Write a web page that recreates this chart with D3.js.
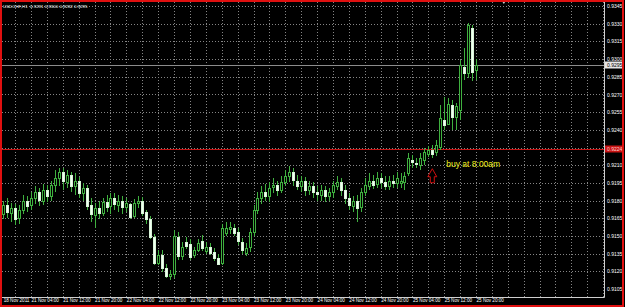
<!DOCTYPE html>
<html>
<head>
<meta charset="utf-8">
<script src="https://cdn.jsdelivr.net/npm/d3@7"></script>
<style>
  html, body { margin: 0; padding: 0; background: #000; overflow: hidden; }
  text { font-family: "Liberation Sans", Arial, sans-serif; }
</style>
</head>
<body>
<svg id="chart"></svg>
<script>
const width = 625, height = 307;
const plotRight = 604, plotBottom = 297;

// USDCHF H1 bars, 18 Nov 2011 21:00 .. 25 Nov 2011 20:00
const open = [
  0.9168, 0.9176, 0.9170, 0.9174, 0.9165, 0.9172, 0.9180, 0.9176, 0.9182, 0.9187,
  0.9180, 0.9189, 0.9184, 0.9193, 0.9199, 0.9204, 0.9196, 0.9202, 0.9193, 0.9197,
  0.9187, 0.9191, 0.9176, 0.9168, 0.9174, 0.9170, 0.9179, 0.9175, 0.9182, 0.9177,
  0.9180, 0.9175, 0.9177, 0.9167, 0.9178, 0.9180, 0.9170, 0.9164, 0.9149, 0.9127,
  0.9134, 0.9123, 0.9116, 0.9118, 0.9149, 0.9133, 0.9145, 0.9143, 0.9134, 0.9138,
  0.9146, 0.9138, 0.9141, 0.9136, 0.9131, 0.9127, 0.9153, 0.9156, 0.9157, 0.9153,
  0.9145, 0.9136, 0.9140, 0.9153, 0.9172, 0.9182, 0.9187, 0.9184, 0.9191, 0.9193,
  0.9189, 0.9196, 0.9201, 0.9204, 0.9197, 0.9193, 0.9197, 0.9189, 0.9192, 0.9187,
  0.9185, 0.9189, 0.9184, 0.9187, 0.9193, 0.9196, 0.9189, 0.9182, 0.9176, 0.9180,
  0.9174, 0.9187, 0.9193, 0.9197, 0.9194, 0.9199, 0.9196, 0.9193, 0.9197, 0.9195,
  0.9195, 0.9196, 0.9203, 0.9214, 0.9212, 0.9210, 0.9214, 0.9220, 0.9223, 0.9221,
  0.9225, 0.9248, 0.9245, 0.9261, 0.9251, 0.9257, 0.9293, 0.9288, 0.9326, 0.9291
];
const high = [
  0.9180, 0.9182, 0.9178, 0.9177, 0.9176, 0.9185, 0.9184, 0.9187, 0.9192, 0.9191,
  0.9194, 0.9193, 0.9197, 0.9206, 0.9208, 0.9208, 0.9206, 0.9204, 0.9203, 0.9200,
  0.9195, 0.9193, 0.9182, 0.9178, 0.9180, 0.9182, 0.9185, 0.9186, 0.9186, 0.9185,
  0.9184, 0.9182, 0.9178, 0.9181, 0.9184, 0.9183, 0.9172, 0.9167, 0.9152, 0.9138,
  0.9138, 0.9126, 0.9121, 0.9155, 0.9153, 0.9145, 0.9149, 0.9147, 0.9141, 0.9147,
  0.9151, 0.9145, 0.9144, 0.9140, 0.9135, 0.9160, 0.9162, 0.9162, 0.9160, 0.9157,
  0.9148, 0.9144, 0.9157, 0.9176, 0.9187, 0.9192, 0.9194, 0.9196, 0.9199, 0.9197,
  0.9201, 0.9206, 0.9209, 0.9208, 0.9202, 0.9201, 0.9200, 0.9197, 0.9196, 0.9192,
  0.9193, 0.9192, 0.9191, 0.9197, 0.9201, 0.9199, 0.9193, 0.9186, 0.9184, 0.9185,
  0.9191, 0.9199, 0.9203, 0.9202, 0.9204, 0.9203, 0.9201, 0.9201, 0.9202, 0.9204,
  0.9203, 0.9204, 0.9220, 0.9219, 0.9216, 0.9220, 0.9225, 0.9226, 0.9227, 0.9231,
  0.9261, 0.9268, 0.9267, 0.9265, 0.9263, 0.9299, 0.9309, 0.9331, 0.9329, 0.9300
];
const low = [
  0.9164, 0.9165, 0.9162, 0.9159, 0.9160, 0.9169, 0.9170, 0.9172, 0.9177, 0.9175,
  0.9176, 0.9179, 0.9180, 0.9187, 0.9192, 0.9189, 0.9191, 0.9187, 0.9185, 0.9182,
  0.9180, 0.9172, 0.9162, 0.9157, 0.9164, 0.9167, 0.9170, 0.9169, 0.9172, 0.9170,
  0.9169, 0.9170, 0.9164, 0.9165, 0.9174, 0.9167, 0.9160, 0.9147, 0.9125, 0.9125,
  0.9119, 0.9114, 0.9113, 0.9114, 0.9130, 0.9130, 0.9139, 0.9130, 0.9131, 0.9136,
  0.9137, 0.9135, 0.9134, 0.9129, 0.9125, 0.9125, 0.9150, 0.9152, 0.9150, 0.9142,
  0.9135, 0.9133, 0.9136, 0.9150, 0.9169, 0.9177, 0.9180, 0.9179, 0.9186, 0.9184,
  0.9186, 0.9192, 0.9196, 0.9192, 0.9189, 0.9187, 0.9184, 0.9185, 0.9182, 0.9180,
  0.9180, 0.9179, 0.9180, 0.9182, 0.9189, 0.9184, 0.9177, 0.9172, 0.9170, 0.9162,
  0.9170, 0.9184, 0.9189, 0.9190, 0.9191, 0.9191, 0.9189, 0.9189, 0.9191, 0.9191,
  0.9191, 0.9189, 0.9201, 0.9208, 0.9208, 0.9206, 0.9210, 0.9217, 0.9216, 0.9218,
  0.9223, 0.9240, 0.9247, 0.9240, 0.9240, 0.9248, 0.9282, 0.9284, 0.9281, 0.9282
];
const close = [
  0.9176, 0.9170, 0.9174, 0.9165, 0.9172, 0.9180, 0.9176, 0.9182, 0.9187, 0.9180,
  0.9189, 0.9184, 0.9193, 0.9199, 0.9204, 0.9196, 0.9202, 0.9193, 0.9197, 0.9187,
  0.9191, 0.9176, 0.9168, 0.9174, 0.9170, 0.9179, 0.9175, 0.9182, 0.9177, 0.9180,
  0.9175, 0.9178, 0.9166, 0.9178, 0.9180, 0.9170, 0.9164, 0.9149, 0.9127, 0.9134,
  0.9123, 0.9116, 0.9118, 0.9150, 0.9133, 0.9141, 0.9142, 0.9132, 0.9138, 0.9144,
  0.9140, 0.9141, 0.9136, 0.9131, 0.9126, 0.9157, 0.9157, 0.9158, 0.9153, 0.9145,
  0.9138, 0.9140, 0.9153, 0.9172, 0.9182, 0.9187, 0.9184, 0.9191, 0.9193, 0.9189,
  0.9196, 0.9201, 0.9204, 0.9197, 0.9193, 0.9197, 0.9189, 0.9192, 0.9187, 0.9185,
  0.9189, 0.9184, 0.9187, 0.9193, 0.9196, 0.9189, 0.9182, 0.9176, 0.9180, 0.9174,
  0.9187, 0.9193, 0.9197, 0.9194, 0.9199, 0.9196, 0.9193, 0.9197, 0.9195, 0.9199,
  0.9197, 0.9201, 0.9216, 0.9212, 0.9211, 0.9216, 0.9221, 0.9223, 0.9220, 0.9227,
  0.9250, 0.9244, 0.9262, 0.9251, 0.9260, 0.9295, 0.9288, 0.9329, 0.9289, 0.9295
];

// time axis labels (bar index -> text)
const timeTickIdx = [0, 7, 15, 23, 31, 39, 47, 55, 63, 71, 79, 87, 95, 103, 111, 119];
const timeTickText = ["18 Nov 2011", "21 Nov 04:00", "21 Nov 12:00", "21 Nov 20:00",
  "22 Nov 04:00", "22 Nov 12:00", "22 Nov 20:00", "23 Nov 04:00", "23 Nov 12:00",
  "23 Nov 20:00", "24 Nov 04:00", "24 Nov 12:00", "24 Nov 20:00", "25 Nov 04:00",
  "25 Nov 12:00", "25 Nov 20:00"];

const priceTicks = [0.9345, 0.9330, 0.9315, 0.9300, 0.9285, 0.9270, 0.9255, 0.9240,
  0.9225, 0.9210, 0.9195, 0.9180, 0.9165, 0.9150, 0.9135, 0.9120, 0.9105];

const symbol = "USDCHF,H1";
const redLevel = 0.9224;
const buyIdx = 108, buyPrice = 0.9207, buyText = "buy at 8:00am";

const n = close.length;
const fmt = d3.format(".4f");

const x = d3.scaleLinear().domain([0, 119]).range([3.2, 476]);
const y = d3.scaleLinear().domain([0.9105, 0.9345]).range([289, 6]);

const svg = d3.select("#chart").attr("width", width).attr("height", height);

svg.append("rect").attr("width", width).attr("height", height).attr("fill", "#000");

// grid
const grid = svg.append("g").attr("stroke", "#858585").attr("stroke-dasharray", "1,2")
    .attr("shape-rendering", "crispEdges");
grid.selectAll(".hg").data(priceTicks.filter(p => p > 0.911)).enter().append("line")
    .attr("x1", 2).attr("x2", plotRight)
    .attr("y1", d => Math.round(y(d)) + 0.5).attr("y2", d => Math.round(y(d)) + 0.5);
grid.selectAll(".vg").data(d3.range(3, 152, 4)).enter().append("line")
    .attr("x1", d => Math.round(x(d)) + 0.5).attr("x2", d => Math.round(x(d)) + 0.5)
    .attr("y1", 2).attr("y2", plotBottom);

// bid line and red level
svg.append("line").attr("x1", 2).attr("x2", plotRight)
    .attr("y1", Math.round(y(close[n - 1])) + 0.5).attr("y2", Math.round(y(close[n - 1])) + 0.5)
    .attr("stroke", "#8c8c8c");
svg.append("line").attr("x1", 2).attr("x2", plotRight)
    .attr("y1", Math.round(y(redLevel)) + 0.5).attr("y2", Math.round(y(redLevel)) + 0.5)
    .attr("stroke", "#c81414");

// candles
const bars = d3.range(n);
const candles = svg.append("g").attr("shape-rendering", "crispEdges");
candles.selectAll(".wick").data(bars).enter().append("line")
    .attr("x1", i => Math.round(x(i)) + 0.5).attr("x2", i => Math.round(x(i)) + 0.5)
    .attr("y1", i => y(high[i])).attr("y2", i => y(low[i]))
    .attr("stroke", "#3fb03f");
candles.selectAll(".body").data(bars).enter().append("rect")
    .attr("x", i => Math.round(x(i)) - 0.5)
    .attr("y", i => Math.round(y(Math.max(open[i], close[i]))) + 0.5)
    .attr("width", 2)
    .attr("height", i => Math.max(1, Math.round(Math.abs(y(open[i]) - y(close[i])))))
    .attr("fill", i => close[i] >= open[i] ? "#000" : "#f2fff2")
    .attr("stroke", i => close[i] >= open[i] ? "#3fb03f" : "#d8f5d8");

// frame
svg.append("path")
    .attr("d", `M${plotRight + 0.5},2 V${plotBottom + 0.5} H2`)
    .attr("fill", "none").attr("stroke", "#cfcfcf");

// price axis
const yAxis = d3.axisRight(y).tickValues(priceTicks).tickSize(0).tickPadding(0).tickFormat(fmt);
const ya = svg.append("g").attr("transform", `translate(${plotRight + 3},0)`).call(yAxis);
ya.select(".domain").remove();
ya.selectAll("text").attr("fill", "#fff").attr("font-size", "5px")
    .attr("font-family", "Liberation Sans, Arial, sans-serif");

// time axis
const xAxis = d3.axisBottom(x).tickValues(timeTickIdx).tickSize(0).tickPadding(0)
    .tickFormat((d, k) => timeTickText[k]);
const xa = svg.append("g").attr("transform", `translate(0,${plotBottom})`).call(xAxis);
xa.select(".domain").remove();
xa.selectAll("text").attr("fill", "#fff").attr("font-size", "4.6px")
    .attr("font-family", "Liberation Sans, Arial, sans-serif")
    .attr("text-anchor", "start").attr("dy", "0").attr("y", 4.5);

// price tags on the axis
function tag(price, bg, fg) {
  const g = svg.append("g").attr("transform", `translate(${plotRight + 1},${Math.round(y(price))})`);
  g.append("rect").attr("x", 0).attr("y", -3.5).attr("width", 17).attr("height", 7).attr("fill", bg);
  g.append("text").attr("x", 2).attr("y", 1.8).attr("font-size", "5px").attr("fill", fg).text(fmt(price));
}
tag(close[n - 1], "#e6e6e6", "#000");
tag(redLevel, "#c81414", "#ffd0d0");

// header
svg.append("text").attr("x", 3).attr("y", 8).attr("font-size", "4.4px").attr("fill", "#fff")
    .attr("xml:space", "preserve")
    .text(`${symbol}  ${fmt(open[n - 1])} ${fmt(high[n - 1])} ${fmt(low[n - 1])} ${fmt(close[n - 1])}`);

// annotation
const ax = x(buyIdx), ay = y(buyPrice);
svg.append("path")
    .attr("d", `M${ax - 4.5},${ay + 8} L${ax},${ay} L${ax + 4.5},${ay + 8} H${ax + 2} V${ay + 14} H${ax - 2} V${ay + 8} Z`)
    .attr("fill", "none").attr("stroke", "#d01010").attr("stroke-width", 1);
svg.append("text").attr("x", ax + 14).attr("y", ay - 2).attr("font-size", "8.5px")
    .attr("fill", "#f0f020").text(buyText);

// shift marker at top
svg.append("path").attr("d", `M${x(126) - 2},1 h4 l-2,3 z`).attr("fill", "#c8c8c8");

// outer red border
svg.append("rect").attr("x", 1).attr("y", 1).attr("width", width - 3).attr("height", height - 2)
    .attr("fill", "none").attr("stroke", "#e01010").attr("stroke-width", 2);
</script>
</body>
</html>
